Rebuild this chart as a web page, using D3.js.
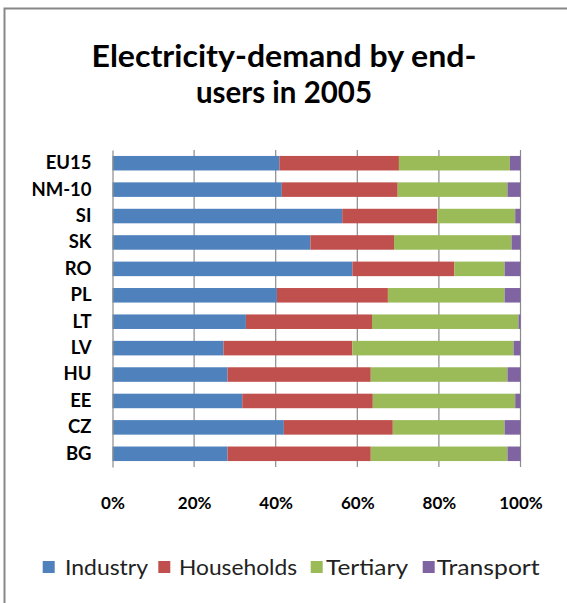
<!DOCTYPE html>
<html><head><meta charset="utf-8">
<script src="https://cdn.jsdelivr.net/npm/d3@7"></script>
<style>body{margin:0;background:#fff}svg{display:block}</style>
</head><body>
<script>
const categories = ["EU15","NM-10","SI","SK","RO","PL","LT","LV","HU","EE","CZ","BG"];
const seriesNames = ["Industry","Households","Tertiary","Transport"];
const industry   = [40.9,41.5,56.3,48.5,58.8,40.3,32.7,27.2,28.2,31.8,42.0,28.2];
const households = [29.3,28.4,23.3,20.5,25.0,27.2,30.9,31.6,35.1,32.0,26.7,35.1];
const tertiary   = [27.2,26.9,19.1,28.8,12.3,28.6,35.9,39.5,33.5,34.9,27.4,33.5];
const transport  = [2.6,3.2,1.3,2.2,3.9,3.9,0.5,1.7,3.2,1.3,3.9,3.2];
const tickValues = [0,0.2,0.4,0.6,0.8,1.0];
const colors = ["#4F81BD","#C0504D","#9BBB59","#8064A2"];
const titleLines = ["Electricity-demand by end-","users in 2005"];

const W=567,H=603;
const svg=d3.select("body").append("svg").attr("width",W).attr("height",H);
svg.append("rect").attr("width",W).attr("height",H).attr("fill","#fff");
// frame
svg.append("path").attr("d","M4.5,603V8.5H567").attr("fill","none").attr("stroke","#878787").attr("stroke-width",2);

const font="Lato, 'Open Sans', sans-serif";
// title
svg.append("g").selectAll("text").data(titleLines).join("text")
  .attr("x",284).attr("y",(d,i)=>67+i*36).attr("text-anchor","middle")
  .attr("font-family",font).attr("font-weight",700).attr("font-size",31).attr("fill","#000")
  .attr("textLength",(d,i)=>[385,176][i]).attr("lengthAdjust","spacingAndGlyphs")
  .text(d=>d);

const rows = categories.map((c,i)=>({cat:c,Industry:industry[i],Households:households[i],Tertiary:tertiary[i],Transport:transport[i]}));
const stack=d3.stack().keys(seriesNames).offset(d3.stackOffsetExpand);
const layers=stack(rows);

const x=d3.scaleLinear().domain([0,1]).range([112.5,520.5]);
const y=d3.scaleBand().domain(categories).range([150,467]).paddingInner(0.45).paddingOuter(0.225);

// gridlines
svg.append("g").selectAll("line").data(tickValues.slice(1)).join("line")
  .attr("x1",d=>x(d)).attr("x2",d=>x(d)).attr("y1",150).attr("y2",467)
  .attr("stroke","#8c8c8c").attr("stroke-width",1.2);

// bars
svg.append("g").selectAll("g").data(layers).join("g").attr("fill",(d,i)=>colors[i])
  .selectAll("rect").data(d=>d).join("rect")
  .attr("x",d=>x(d[0])).attr("width",d=>x(d[1])-x(d[0]))
  .attr("y",d=>y(d.data.cat)).attr("height",y.bandwidth());

// left axis
const yAxis=svg.append("g").attr("transform","translate(112.5,0)")
  .call(d3.axisLeft(y).tickSize(0).tickPadding(21));
yAxis.select(".domain").attr("stroke","#8c8c8c").attr("stroke-width",1.2);
yAxis.selectAll("text").attr("font-family",font).attr("font-weight",700).attr("font-size",18.5).attr("fill","#000");

// bottom axis labels
const xAxis=svg.append("g").attr("transform","translate(0,467)")
  .call(d3.axisBottom(x).tickValues(tickValues).tickFormat(d3.format(".0%")).tickSize(0).tickPadding(30));
xAxis.select(".domain").remove();
xAxis.selectAll("text").attr("font-family",font).attr("font-weight",700).attr("font-size",17).attr("fill","#000");

// legend
const legX=[42.7,158.3,310.7,422.7];
const leg=svg.append("g").selectAll("g").data(seriesNames).join("g")
  .attr("transform",(d,i)=>`translate(${legX[i]},561)`);
leg.append("rect").attr("width",12).attr("height",12).attr("fill",(d,i)=>colors[i]);
leg.append("text").attr("x",(d,i)=>[22.3,20.7,15.3,14][i]).attr("y",13.5)
  .attr("font-family",font).attr("font-size",22).attr("fill","#222")
  .attr("textLength",(d,i)=>[83,118,82,103][i]).attr("lengthAdjust","spacingAndGlyphs")
  .text(d=>d);
</script>
</body></html>
